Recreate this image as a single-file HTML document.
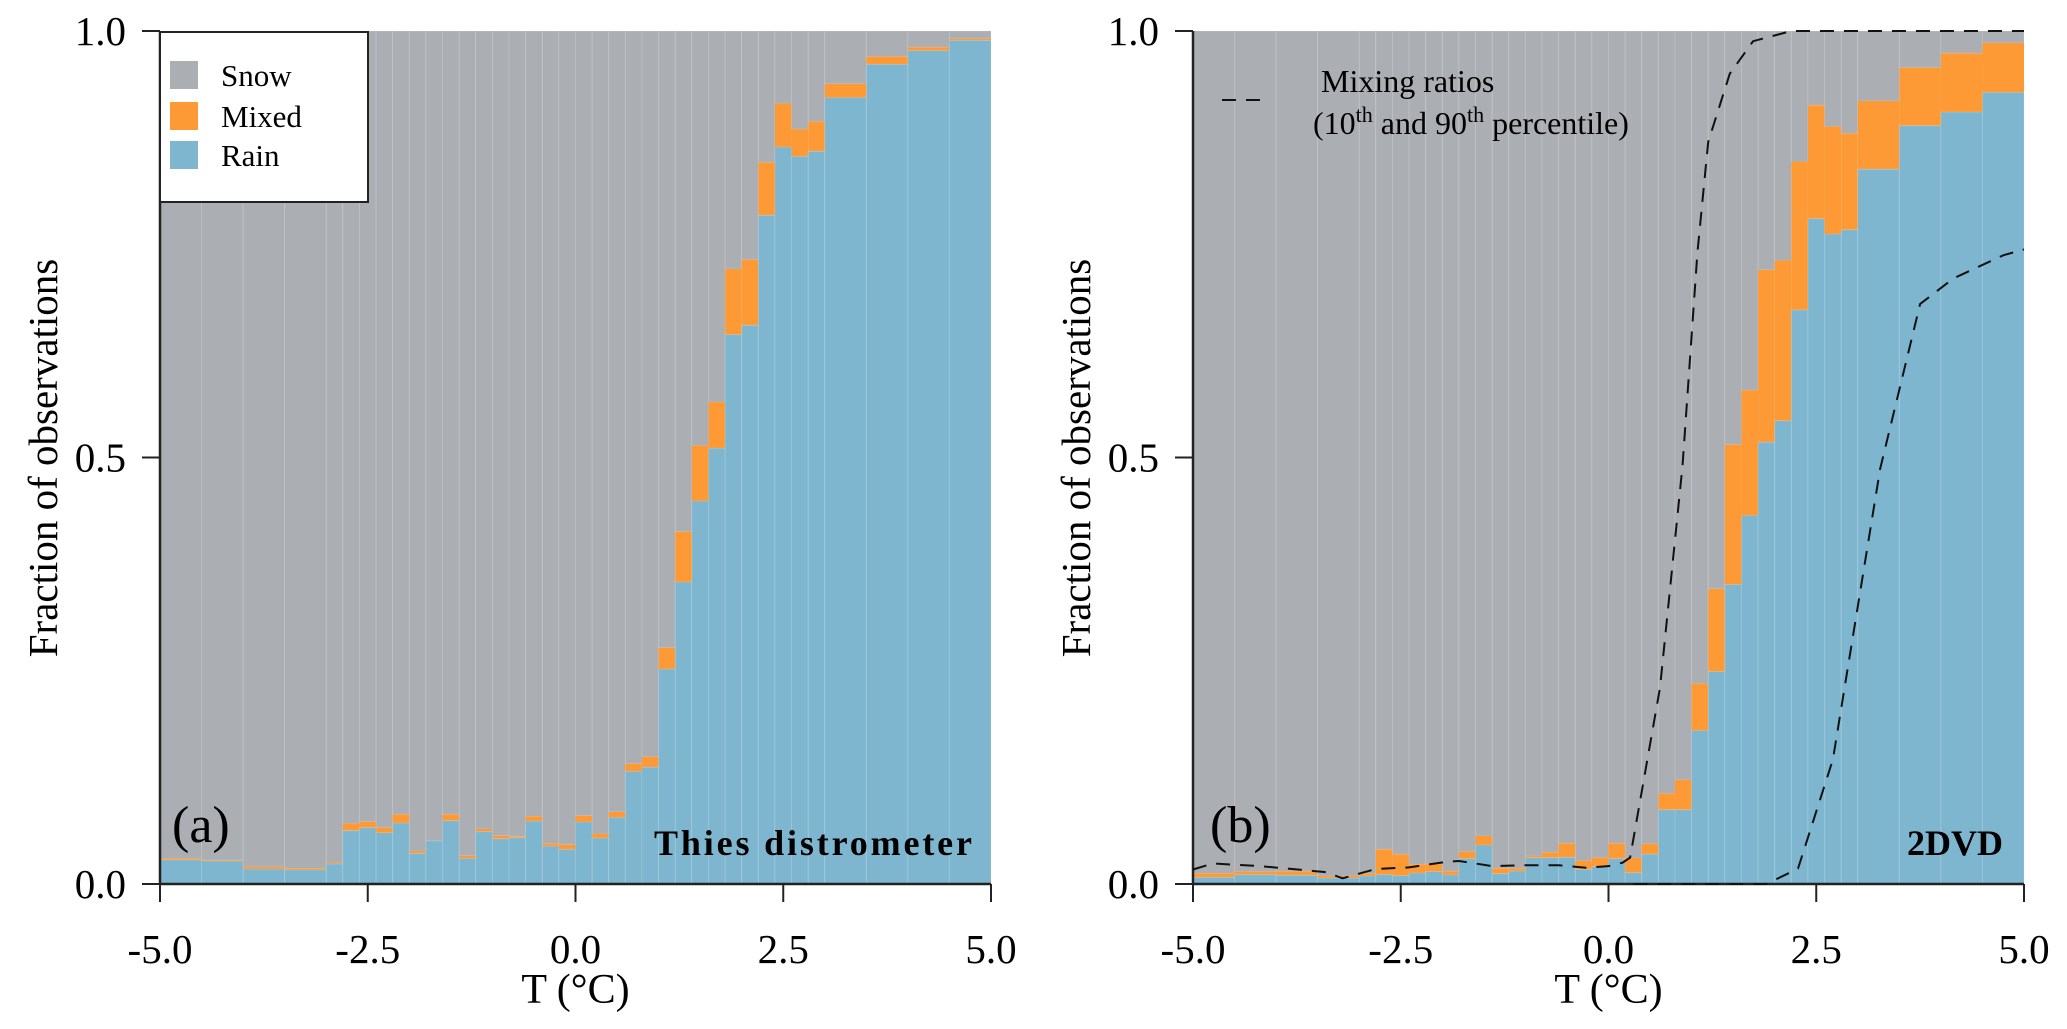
<!DOCTYPE html>
<html><head><meta charset="utf-8"><style>
html,body{margin:0;padding:0;background:#fff;}
svg{display:block;font-family:"Liberation Serif",serif;}
text{font-family:"Liberation Serif",serif;}
</style></head><body>
<svg id="chart" width="2067" height="1029" viewBox="0 0 2067 1029" xmlns="http://www.w3.org/2000/svg"></svg>
<script>
const binEdges = [-5,-4.5,-4,-3.5,-3,-2.8,-2.6,-2.4,-2.2,-2.0,-1.8,-1.6,-1.4,-1.2,-1.0,-0.8,-0.6,-0.4,-0.2,0,0.2,0.4,0.6,0.8,1.0,1.2,1.4,1.6,1.8,2.0,2.2,2.4,2.6,2.8,3.0,3.5,4.0,4.5,5.0];
const thiesRain = [0.0285,0.027,0.0176,0.0164,0.0234,0.0625,0.066,0.060,0.0715,0.036,0.0504,0.0742,0.030,0.0613,0.053,0.0543,0.0738,0.0445,0.0406,0.0727,0.0539,0.078,0.132,0.137,0.252,0.354,0.449,0.511,0.644,0.655,0.784,0.864,0.853,0.859,0.922,0.961,0.977,0.989];
const thiesMixedTop = [0.0304,0.028,0.020,0.018,0.0246,0.071,0.073,0.066,0.0817,0.0387,0.0504,0.0817,0.033,0.0645,0.0566,0.056,0.0793,0.0476,0.046,0.080,0.0586,0.0846,0.141,0.149,0.277,0.413,0.514,0.565,0.721,0.732,0.846,0.915,0.885,0.894,0.938,0.970,0.981,0.991];
const dvdRain = [0.0078,0.0109,0.0102,0.0070,0.0094,0.0109,0.0098,0.0129,0.0145,0.0106,0.0297,0.0457,0.0121,0.0152,0.0309,0.0309,0.0313,0.0172,0.0203,0.0297,0.0133,0.035,0.087,0.087,0.180,0.249,0.351,0.432,0.518,0.543,0.673,0.780,0.762,0.767,0.838,0.889,0.905,0.928];
const dvdMixedTop = [0.0125,0.0145,0.0149,0.0094,0.0121,0.0407,0.0348,0.0231,0.0234,0.0149,0.038,0.0563,0.0184,0.0184,0.0328,0.0371,0.0477,0.0274,0.0309,0.0477,0.0305,0.047,0.106,0.122,0.235,0.346,0.515,0.579,0.720,0.731,0.847,0.913,0.888,0.880,0.918,0.957,0.974,0.986];
const p10T = [-5,-4.76,-4.2,-3.4,-3.2,-2.8,-2.4,-1.95,-1.8,-1.6,-1.4,-1.0,-0.6,-0.27,0,0.17,0.26,0.62,0.89,1.07,1.2,1.46,1.74,2.2,5.0];
const p10V = [0.017,0.024,0.021,0.014,0.0067,0.0176,0.0195,0.026,0.027,0.024,0.021,0.022,0.022,0.019,0.021,0.025,0.031,0.23,0.49,0.74,0.87,0.95,0.988,1.0,1.0];
const p90T = [0.3,1.9,2.28,2.70,3.27,3.75,4.15,4.75,5.0];
const p90V = [0.0,0.0,0.018,0.146,0.487,0.68,0.71,0.737,0.744];
const yTicks = [0.0,0.5,1.0];
const yTickLabels = ["0.0","0.5","1.0"];
const xTicks = [-5,-2.5,0,2.5,5];
const xTickLabels = ["-5.0","-2.5","0.0","2.5","5.0"];

const NS="http://www.w3.org/2000/svg";
const svg=document.getElementById('chart');
function mk(tag,attrs,parent){const e=document.createElementNS(NS,tag);for(const k in attrs)e.setAttribute(k,attrs[k]);(parent||svg).appendChild(e);return e;}
const Y0=884, Y1=31;
function yS(v){return Y0-(Y0-Y1)*v;}
const GRAY="#abafb3", ORANGE="#fd9a35", BLUE="#7fb6cf";

function panel(x0,x1,rain,mixTop,name){
  const g=mk('g',{});
  
  
  const xS=t=>x0+(x1-x0)*(t+5)/10;
  for(let i=0;i<rain.length;i++){
    const a=xS(binEdges[i]), b=xS(binEdges[i+1]);
    const s=mk('rect',{x:a,y:Y1,width:b-a,height:yS(mixTop[i])-Y1,fill:GRAY,stroke:"rgba(255,255,255,0.12)","stroke-width":1},g);
    
    
    const m=mk('rect',{x:a,y:yS(mixTop[i]),width:b-a,height:yS(rain[i])-yS(mixTop[i]),fill:ORANGE},g);
    
    
    const r=mk('rect',{x:a,y:yS(rain[i]),width:b-a,height:Y0-yS(rain[i]),fill:BLUE,stroke:"rgba(255,255,255,0.12)","stroke-width":1},g);
    
    
  }
  const ax=mk('line',{x1:x0,y1:Y1,x2:x0,y2:Y0,stroke:"#222","stroke-width":2.5});
  
  
  const bx=mk('line',{x1:x0,y1:Y0,x2:x1,y2:Y0,stroke:"#222","stroke-width":2.5});
  
  
  yTicks.forEach((v,i)=>{
    mk('line',{x1:x0-18,y1:yS(v),x2:x0,y2:yS(v),stroke:"#222","stroke-width":2});
    const t=mk('text',{x:x0-34,y:yS(v)+14,"text-anchor":"end","font-size":41});
    t.textContent=yTickLabels[i];
    
    
  });
  xTicks.forEach((v,i)=>{
    mk('line',{x1:xS(v),y1:Y0,x2:xS(v),y2:Y0+18,stroke:"#222","stroke-width":2});
    const t=mk('text',{x:xS(v),y:963,"text-anchor":"middle","font-size":41});
    t.textContent=xTickLabels[i];
    
    
  });
  const xt=mk('text',{x:(x0+x1)/2,y:1003,"text-anchor":"middle","font-size":42});
  xt.textContent="T (°C)";
  
  
  const yt=mk('text',{x:0,y:0,"text-anchor":"middle","font-size":41,transform:`translate(${x0-103},458) rotate(-90)`});
  yt.textContent="Fraction of observations";
  
  
  return xS;
}
const xa=panel(160,991,thiesRain,thiesMixedTop,'panel-a');
const xb=panel(1193,2024,dvdRain,dvdMixedTop,'panel-b');

function dashed(T,V,xS,name){
  const d=T.map((t,i)=>(i?'L':'M')+xS(t).toFixed(1)+' '+yS(V[i]).toFixed(1)).join(' ');
  const p=mk('path',{d:d,fill:"none",stroke:"#111","stroke-width":2,"stroke-dasharray":"14 10"});
  
  
}
dashed(p10T,p10V,xb,'percentile-10-line');
dashed(p90T,p90V,xb,'percentile-90-line');

let t=mk('text',{x:172,y:842,"font-size":52});t.textContent="(a)";

t=mk('text',{x:1210,y:842,"font-size":52});t.textContent="(b)";

t=mk('text',{x:972,y:855,"font-size":36,"font-weight":"bold","text-anchor":"end",textLength:318});t.textContent="Thies distrometer";

t=mk('text',{x:2003,y:855,"font-size":36,"font-weight":"bold","text-anchor":"end"});t.textContent="2DVD";


const lg=mk('g',{});


mk('rect',{x:160,y:32,width:208,height:170,fill:"#fff",stroke:"#222","stroke-width":2},lg);
[["Snow",GRAY,75],["Mixed",ORANGE,116],["Rain",BLUE,155]].forEach(([lab,c,y])=>{
  const s=mk('rect',{x:170,y:y-14,width:28,height:28,fill:c},lg);
  
  
  const tx=mk('text',{x:221,y:y+11,"font-size":31},lg);
  tx.textContent=lab;
  
  
});
const lb=mk('g',{});


mk('path',{d:"M1222 100 L1265 100",stroke:"#111","stroke-width":2,"stroke-dasharray":"14 10"},lb);
t=mk('text',{x:1321,y:92,"font-size":32},lb);t.textContent="Mixing ratios";

t=mk('text',{x:1313,y:134,"font-size":32},lb);
t.innerHTML='(10<tspan dy="-12" font-size="22">th</tspan><tspan dy="12"> and 90</tspan><tspan dy="-12" font-size="22">th</tspan><tspan dy="12"> percentile)</tspan>';

</script>
</body></html>
